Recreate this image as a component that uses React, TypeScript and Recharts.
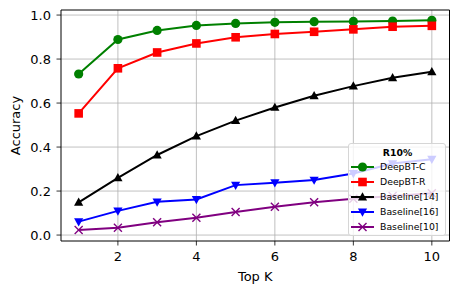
import React from 'react';
import {
  LineChart,
  Line,
  XAxis,
  YAxis,
  CartesianGrid,
  Legend,
  ReferenceArea,
} from 'recharts';

// Top-K accuracy curves (R10%)
const TOP_K = [1, 2, 3, 4, 5, 6, 7, 8, 9, 10];
const DEEPBT_C = [0.732, 0.889, 0.93, 0.953, 0.962, 0.967, 0.97, 0.971, 0.973, 0.976];
const DEEPBT_R = [0.553, 0.758, 0.83, 0.871, 0.899, 0.914, 0.924, 0.935, 0.947, 0.951];
const BASELINE_14 = [0.149, 0.26, 0.364, 0.45, 0.52, 0.58, 0.633, 0.677, 0.715, 0.742];
const BASELINE_16 = [0.061, 0.11, 0.151, 0.162, 0.227, 0.238, 0.25, 0.28, 0.325, 0.345];
const BASELINE_10 = [0.023, 0.033, 0.058, 0.079, 0.105, 0.129, 0.149, 0.165, 0.178, 0.19];

const X_TICKS = [2, 4, 6, 8, 10];
const Y_TICKS = [0, 0.2, 0.4, 0.6, 0.8, 1.0];

const SERIES = [
  { key: 'c', name: 'DeepBT-C', values: DEEPBT_C, color: '#008000', marker: 'circle' },
  { key: 'r', name: 'DeepBT-R', values: DEEPBT_R, color: '#ff0000', marker: 'square' },
  { key: 'b14', name: 'Baseline[14]', values: BASELINE_14, color: '#000000', marker: 'up' },
  { key: 'b16', name: 'Baseline[16]', values: BASELINE_16, color: '#0000ff', marker: 'down' },
  { key: 'b10', name: 'Baseline[10]', values: BASELINE_10, color: '#800080', marker: 'x' },
];

const data = TOP_K.map((k, i) => {
  const row: any = { k };
  SERIES.forEach((s) => (row[s.key] = s.values[i]));
  return row;
});

const FONT = '"DejaVu Sans", sans-serif';

function Marker({ cx, cy, type, color }: any) {
  if (cx == null || cy == null) return null;
  switch (type) {
    case 'circle':
      return <circle cx={cx} cy={cy} r={4.6} fill={color} />;
    case 'square':
      return <rect x={cx - 4.3} y={cy - 4.3} width={8.6} height={8.6} fill={color} />;
    case 'up':
      return (
        <polygon
          points={`${cx},${cy - 4.8} ${cx - 4.6},${cy + 3.4} ${cx + 4.6},${cy + 3.4}`}
          fill={color}
        />
      );
    case 'down':
      return (
        <polygon
          points={`${cx},${cy + 4.8} ${cx - 4.6},${cy - 3.4} ${cx + 4.6},${cy - 3.4}`}
          fill={color}
        />
      );
    default:
      return (
        <g stroke={color} strokeWidth={1.4}>
          <line x1={cx - 4} y1={cy - 4} x2={cx + 4} y2={cy + 4} />
          <line x1={cx - 4} y1={cy + 4} x2={cx + 4} y2={cy - 4} />
        </g>
      );
  }
}

function LegendBox() {
  return (
    <div
      style={{
        boxSizing: 'border-box',
        width: 98,
        height: 93,
        background: 'rgba(255,255,255,0.8)',
        border: '1px solid #d6d6d6',
        borderRadius: 3,
        fontFamily: FONT,
        fontSize: 9.3,
        color: '#000',
        padding: '1.7px 0 0 1px',
      }}
    >
      <div style={{ textAlign: 'center', fontWeight: 'bold', lineHeight: '14px', height: 14 }}>R10%</div>
      {SERIES.map((s) => (
        <div key={s.key} style={{ display: 'flex', alignItems: 'center', height: 15 }}>
          <svg width={26} height={12} style={{ flexShrink: 0 }}>
            <line x1={1} y1={6} x2={24} y2={6} stroke={s.color} strokeWidth={2} />
            <Marker cx={12.5} cy={6} type={s.marker} color={s.color} />
          </svg>
          <span style={{ marginLeft: 4, whiteSpace: 'nowrap', lineHeight: '12px' }}>{s.name}</span>
        </div>
      ))}
    </div>
  );
}

export default function App() {
  return (
    <div style={{ position: 'absolute', left: 0, top: 0, background: '#fff' }}>
      <LineChart
        width={458}
        height={294}
        data={data}
        margin={{ top: 10, right: 8.5, left: 0, bottom: 0 }}
      >
        <CartesianGrid
          stroke="#b0b0b0"
          strokeWidth={0.8}
          horizontalValues={Y_TICKS}
          verticalValues={X_TICKS}
        />
        <XAxis
          dataKey="k"
          type="number"
          domain={[0.55, 10.45]}
          ticks={X_TICKS}
          allowDataOverflow
          height={53}
          tickSize={4.5}
          tickMargin={6}
          axisLine={false}
          tickLine={{ stroke: '#000', strokeWidth: 0.8 }}
          tick={{ fill: '#000', fontSize: 13, fontFamily: FONT }}
          label={(props: any) => {
            const vb = props.viewBox;
            return (
              <text
                x={vb.x + vb.width / 2}
                y={281}
                textAnchor="middle"
                fontSize={13}
                fontFamily={FONT}
                fill="#000"
              >
                Top K
              </text>
            );
          }}
        />
        <YAxis
          type="number"
          domain={[-0.027, 1.023]}
          ticks={Y_TICKS}
          allowDataOverflow
          width={61}
          tickSize={4.5}
          tickMargin={5.5}
          axisLine={false}
          tickFormatter={(v: number) => v.toFixed(1)}
          tickLine={{ stroke: '#000', strokeWidth: 0.8 }}
          tick={{ fill: '#000', fontSize: 13, fontFamily: FONT }}
          label={(props: any) => {
            const vb = props.viewBox;
            const cy = vb.y + vb.height / 2;
            return (
              <text
                x={20}
                y={cy}
                transform={`rotate(-90 20 ${cy})`}
                textAnchor="middle"
                fontSize={13}
                fontFamily={FONT}
                fill="#000"
              >
                Accuracy
              </text>
            );
          }}
        />
        {SERIES.map((s) => (
          <Line
            key={s.key}
            dataKey={s.key}
            name={s.name}
            stroke={s.color}
            strokeWidth={2}
            isAnimationActive={false}
            dot={(p: any) => (
              <Marker key={`${s.key}-${p.index}`} cx={p.cx} cy={p.cy} type={s.marker} color={s.color} />
            )}
            activeDot={false}
          />
        ))}
        <ReferenceArea
          x1={0.55}
          x2={10.45}
          y1={-0.027}
          y2={1.023}
          fill="none"
          fillOpacity={0}
          stroke="#000"
          strokeWidth={1}
          ifOverflow="visible"
        />
        <Legend
          layout="vertical"
          align="center"
          verticalAlign="middle"
          content={() => <LegendBox />}
          wrapperStyle={{ position: 'absolute', left: 348, top: 143, width: 98, height: 93 }}
        />
      </LineChart>
    </div>
  );
}
